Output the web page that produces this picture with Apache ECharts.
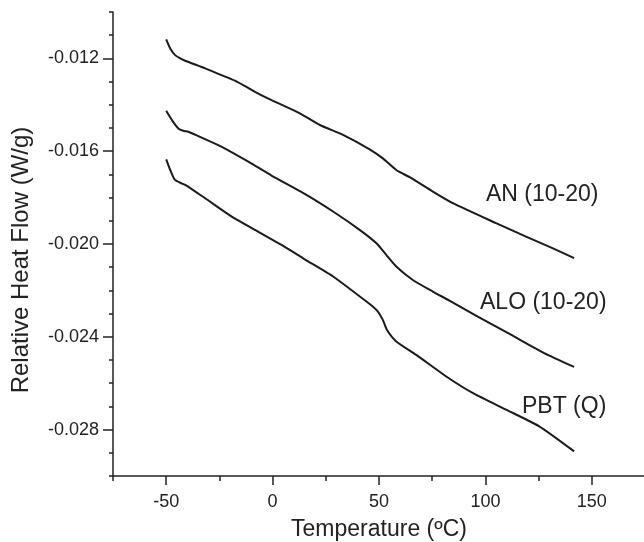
<!DOCTYPE html>
<html>
<head>
<meta charset="utf-8">
<script src="https://cdn.jsdelivr.net/npm/echarts@6/dist/echarts.min.js"></script>
<style>html,body{margin:0;padding:0;background:#fff}#c{width:644px;height:542px}</style>
</head>
<body>
<div id="c"></div>
<script>
// Temperature (°C) and relative heat flow (W/g)
var anTemp = [-50.0, -48.1, -45.8, -43.4, -41.1, -31.7, -17.7, -8.3, -0.5, 12.8, 22.2, 33.1, 45.6, 51.8, 58.1, 64.4, 75.3, 84.7, 105.0, 119.1, 131.5, 141.7];
var anFlow = [-0.01118, -0.01157, -0.01186, -0.01200, -0.01210, -0.01243, -0.01296, -0.01344, -0.01380, -0.01437, -0.01487, -0.01530, -0.01592, -0.01631, -0.01681, -0.01712, -0.01774, -0.01824, -0.01910, -0.01968, -0.02018, -0.02061];

var aloTemp = [-50.0, -47.3, -44.3, -42.0, -39.6, -34.9, -23.9, -11.4, -0.5, 15.1, 28.4, 40.9, 48.8, 53.4, 58.1, 65.9, 75.3, 83.1, 96.4, 112.0, 127.6, 141.7];
var aloFlow = [-0.01426, -0.01466, -0.01502, -0.01512, -0.01516, -0.01535, -0.01581, -0.01645, -0.01705, -0.01784, -0.01860, -0.01939, -0.01997, -0.02047, -0.02097, -0.02155, -0.02205, -0.02244, -0.02313, -0.02391, -0.02470, -0.02530];

var pbtTemp = [-50.0, -48.1, -46.1, -43.4, -40.5, -31.7, -19.2, -8.3, 4.2, 15.1, 28.4, 44.1, 48.8, 51.8, 53.7, 58.1, 67.5, 81.6, 94.0, 109.7, 125.3, 141.7];
var pbtFlow = [-0.01635, -0.01681, -0.01721, -0.01736, -0.01748, -0.01803, -0.01882, -0.01939, -0.02004, -0.02066, -0.02140, -0.02248, -0.02284, -0.02327, -0.02370, -0.02420, -0.02478, -0.02571, -0.02642, -0.02714, -0.02786, -0.02894];

var seriesNames = ['AN (10-20)', 'ALO (10-20)', 'PBT (Q)'];
var labelTemps = [126.7, 127.2, 137.0];
var labelFlows = [-0.01789, -0.02254, -0.02699];

var xMajorTicks = [-50, 0, 50, 100, 150];
var yMajorTicks = [-0.028, -0.024, -0.020, -0.016, -0.012];

function pairs(t, v) { return t.map(function (x, i) { return [x, v[i]]; }); }

var FONT = '"Liberation Sans", Arial, sans-serif';
var INK = '#222';

var temps = [anTemp, aloTemp, pbtTemp];
var flows = [anFlow, aloFlow, pbtFlow];

var series = seriesNames.map(function (name, i) {
  return {
    name: name,
    type: 'line',
    xAxisIndex: 0,
    yAxisIndex: 0,
    data: pairs(temps[i], flows[i]),
    showSymbol: false,
    smooth: 0.2,
    lineStyle: { color: '#1a1a1a', width: 2 },
    markPoint: {
      symbol: 'circle',
      symbolSize: 0,
      silent: true,
      data: [{ name: name, coord: [labelTemps[i], labelFlows[i]] }],
      label: { show: true, position: 'inside', formatter: '{b}', color: INK, fontSize: 23, fontFamily: FONT }
    }
  };
});

var chart = echarts.init(document.getElementById('c'), null, { renderer: 'canvas' });
chart.setOption({
  animation: false,
  backgroundColor: '#fff',
  grid: { left: 113, right: -1, top: 12, bottom: 66, containLabel: false, outerBoundsMode: 'none' },
  xAxis: [
    {
      type: 'value', min: -75, max: 175, position: 'bottom',
      name: 'Temperature (ºC)', nameLocation: 'middle', nameGap: 42,
      nameTextStyle: { color: INK, fontSize: 23, fontFamily: FONT },
      axisLine: { show: true, onZero: false, lineStyle: { color: INK, width: 1.5 } },
      axisTick: { show: true, length: 9, customValues: xMajorTicks, lineStyle: { color: INK, width: 1.5 } },
      axisLabel: { show: true, customValues: xMajorTicks, margin: 17, color: INK, fontSize: 18, fontFamily: FONT },
      splitLine: { show: false }
    },
    {
      type: 'value', min: -75, max: 175, interval: 25, position: 'bottom',
      axisLine: { show: false, onZero: false },
      axisTick: { show: true, length: 5, lineStyle: { color: INK, width: 1.5 } },
      axisLabel: { show: false },
      splitLine: { show: false }
    }
  ],
  yAxis: [
    {
      type: 'value', min: -0.030, max: -0.010, position: 'left',
      name: 'Relative Heat Flow (W/g)', nameLocation: 'middle', nameGap: 80,
      nameTextStyle: { color: INK, fontSize: 24, fontFamily: FONT, padding: [0, 32, 0, 0] },
      axisLine: { show: true, onZero: false, lineStyle: { color: INK, width: 1.5 } },
      axisTick: { show: true, length: 10, customValues: yMajorTicks, lineStyle: { color: INK, width: 1.5 } },
      axisLabel: { show: true, customValues: yMajorTicks, margin: 14, color: INK, fontSize: 18, fontFamily: FONT,
        formatter: function (v) { return v.toFixed(3); } },
      splitLine: { show: false }
    },
    {
      type: 'value', min: -0.030, max: -0.010, interval: 0.001, position: 'left',
      axisLine: { show: false, onZero: false },
      axisTick: { show: true, length: 4, lineStyle: { color: INK, width: 1.5 } },
      axisLabel: { show: false },
      splitLine: { show: false }
    }
  ],
  series: series
});
</script>
</body>
</html>
